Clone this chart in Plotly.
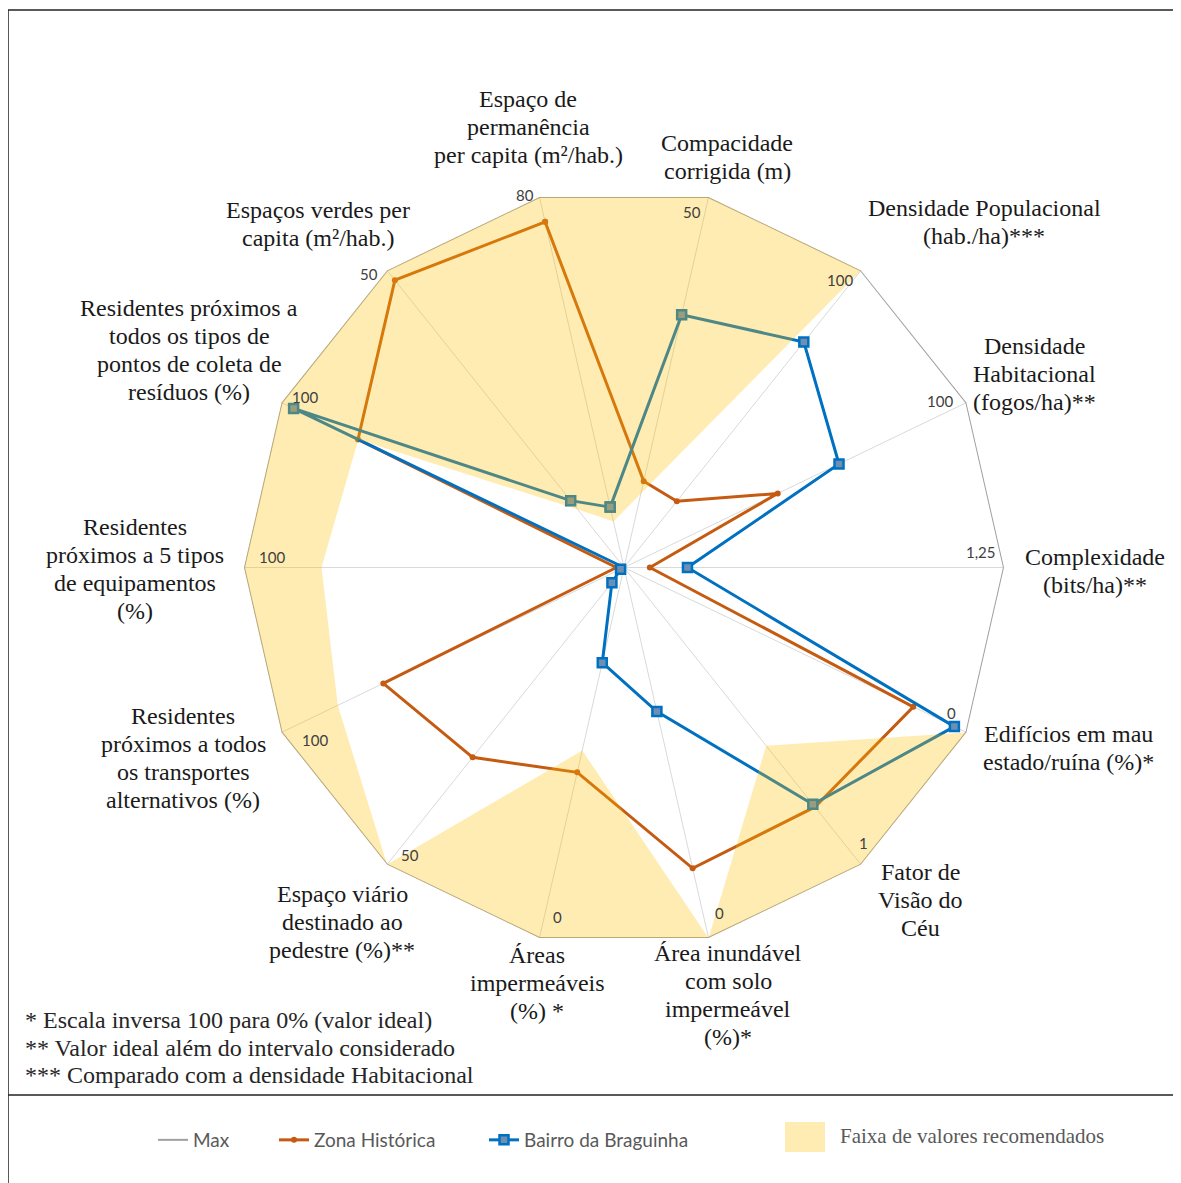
import math
import plotly.graph_objects as go

W, H = 1181, 1183
OFF = 8  # page body margin of the browser

# ---------------- data ----------------
categories = [
    "Espaço de permanência per capita (m²/hab.)",
    "Compacidade corrigida (m)",
    "Densidade Populacional (hab./ha)***",
    "Densidade Habitacional (fogos/ha)**",
    "Complexidade (bits/ha)**",
    "Edifícios em mau estado/ruína (%)*",
    "Fator de Visão do Céu",
    "Área inundável com solo impermeável (%)*",
    "Áreas impermeáveis (%) *",
    "Espaço viário destinado ao pedestre (%)**",
    "Residentes próximos a todos os transportes alternativos (%)",
    "Residentes próximos a 5 tipos de equipamentos (%)",
    "Residentes próximos a todos os tipos de pontos de coleta de resíduos (%)",
    "Espaços verdes per capita (m²/hab.)",
]

category_label_lines = [
    ["Espaço de", "permanência", "per capita (m²/hab.)"],
    ["Compacidade", "corrigida (m)"],
    ["Densidade Populacional", "(hab./ha)***"],
    ["Densidade", "Habitacional", "(fogos/ha)**"],
    ["Complexidade", "(bits/ha)**"],
    ["Edifícios em mau", "estado/ruína (%)*"],
    ["Fator de", "Visão do", "Céu"],
    ["Área inundável", "com solo", "impermeável", "(%)*"],
    ["Áreas", "impermeáveis", "(%) *"],
    ["Espaço viário", "destinado ao", "pedestre (%)**"],
    ["Residentes", "próximos a todos", "os transportes", "alternativos (%)"],
    ["Residentes", "próximos a 5 tipos", "de equipamentos", "(%)"],
    ["Residentes próximos a", "todos os tipos de", "pontos de coleta de", "resíduos (%)"],
    ["Espaços verdes per", "capita (m²/hab.)"],
]

axis_max_labels = ["80", "50", "100", "100", "1,25", "0", "1", "0", "0", "50", "100", "100", "100", "50"]

max_values = [1, 1, 1, 1, 1, 1, 1, 1, 1, 1, 1, 1, 1, 1]
zona_historica = [0.933, 0.233, 0.223, 0.449, 0.068, 0.845, 0.806, 0.812, 0.553, 0.639, 0.703, 0.02, 0.777, 0.967]
bairro_braguinha = [0.163, 0.682, 0.759, 0.628, 0.167, 0.965, 0.797, 0.389, 0.257, 0.051, 0.01, 0.0, 0.965, 0.225]

# recommended range (upper / lower bound); None = no recommended band
faixa_upper = [1, 1, 1, None, None, 1, 1, 1, 1, 1, 1, 1, 1, 1]
faixa_lower = [0.124, 0.2, 1, None, None, 1, 0.6, 1, 0.494, 1, 0.836, 0.796, 0.776, 0.195]

footnotes = [
    "* Escala inversa 100 para 0% (valor ideal)",
    "** Valor ideal além do intervalo considerado",
    "*** Comparado com a densidade Habitacional",
]

# ---------------- geometry / styles ----------------
CX, CY, R = 624.0, 567.5, 380.0
ROT = 90 + 180 / 14.0
N = len(categories)


def px(x):
    return (x - OFF) / W


def py(y):
    return 1 - (y - OFF) / H


def vertex(i, r=1.0):
    a = math.radians(ROT - i * 360.0 / N)
    return CX + R * r * math.cos(a), CY - R * r * math.sin(a)


SERIF = "Liberation Serif"
ORANGE = "#C55A11"
BLUE = "#0070C0"
GOLD = "rgba(255,192,0,0.30)"

fig = go.Figure()

# spokes
sp_theta, sp_r = [], []
for c in categories:
    sp_theta += [c, c, c]
    sp_r += [0, 1, None]
fig.add_trace(go.Scatterpolar(theta=sp_theta, r=sp_r, mode="lines",
                              line=dict(color="#D9D9D9", width=1),
                              showlegend=False, hoverinfo="skip", cliponaxis=False))

# Max polygon
fig.add_trace(go.Scatterpolar(theta=categories + categories[:1], r=max_values + max_values[:1],
                              mode="lines", name="Max", legend="legend",
                              line=dict(color="#A0A0A0", width=2), cliponaxis=False))

fig.add_trace(go.Scatterpolar(theta=categories + categories[:1], r=zona_historica + zona_historica[:1],
                              mode="lines+markers", name="Zona Histórica", legend="legend2",
                              line=dict(color=ORANGE, width=3),
                              marker=dict(symbol="circle", size=6, color=ORANGE),
                              cliponaxis=False))

fig.add_trace(go.Scatterpolar(theta=categories + categories[:1], r=bairro_braguinha + bairro_braguinha[:1],
                              mode="lines+markers", name="Bairro da Braguinha", legend="legend3",
                              line=dict(color=BLUE, width=3),
                              marker=dict(symbol="square", size=9, color="#6E8FB4",
                                          line=dict(color=BLUE, width=2.5)),
                              cliponaxis=False))

# recommended band (semi-transparent overlay on top)
order = list(range(5, N)) + list(range(0, 3))
band_theta = [categories[i] for i in order] + [categories[i] for i in reversed(order)]
band_r = [faixa_upper[i] for i in order] + [faixa_lower[i] for i in reversed(order)]
fig.add_trace(go.Scatterpolar(theta=band_theta, r=band_r, mode="lines", fill="toself",
                              fillcolor=GOLD, line=dict(width=0, color="rgba(0,0,0,0)"),
                              name="Faixa de valores recomendados", showlegend=False,
                              hoverinfo="skip", cliponaxis=False))

legend_font = dict(family="Lato", size=19, color="#595959")


def legend_at(x_text_start):
    return dict(orientation="h", x=px(x_text_start - 40), y=py(1140), xanchor="left",
                yanchor="middle", font=legend_font, bgcolor="rgba(0,0,0,0)", itemwidth=30)


fig.update_layout(
    width=W, height=H,
    margin=dict(l=0, r=0, t=0, b=0),
    paper_bgcolor="white",
    plot_bgcolor="white",
    polar=dict(
        domain=dict(x=[px(CX - R), px(CX + R)], y=[py(CY + R), py(CY - R)]),
        gridshape="linear",
        bgcolor="rgba(0,0,0,0)",
        radialaxis=dict(visible=False, range=[0, 1]),
        angularaxis=dict(type="category", categoryarray=categories, direction="clockwise",
                         rotation=ROT, showgrid=False, showline=False,
                         showticklabels=False, ticks=""),
    ),
    showlegend=True,
    legend=legend_at(193),
    legend2=legend_at(314),
    legend3=legend_at(524),
)

annotations = []
# category labels (centre positions in px)
label_centres = [(528, 127), (727, 157), (984, 222), (1034, 374), (1095, 571), (1068, 748),
                 (920, 900), (728, 995), (537, 983), (342, 922), (183, 758), (135, 569),
                 (189, 350), (318, 224)]
LINE_H = 28.3
for lines, (cx, cy) in zip(category_label_lines, label_centres):
    n = len(lines)
    for k, t in enumerate(lines):
        yy = cy + (k - (n - 1) / 2) * LINE_H
        annotations.append(dict(x=px(cx), y=py(yy), xref="paper", yref="paper", text=t,
                                showarrow=False, xanchor="center", yanchor="middle",
                                font=dict(family=SERIF, size=24, color="#1a1a1a")))

# per-axis maximum labels, offset from each vertex
tick_offsets = [(-14, -2), (-17, 15), (-21, 10), (-26, -2), (-23, -16), (-15, -19), (3, -22),
                (11, -25), (18, -21), (23, -10), (33, 8), (28, -11), (23, -6), (-18, 4)]
for i, (t, (dx, dy)) in enumerate(zip(axis_max_labels, tick_offsets)):
    vx, vy = vertex(i)
    annotations.append(dict(x=px(vx + dx), y=py(vy + dy), xref="paper", yref="paper", text=t,
                            showarrow=False, xanchor="center", yanchor="middle",
                            font=dict(family="Lato", size=15, color="#404040")))

# footnotes
for k, t in enumerate(footnotes):
    annotations.append(dict(x=px(23), y=py(1020 + k * 27.5), xref="paper", yref="paper", text=t,
                            showarrow=False, xanchor="left", yanchor="middle",
                            font=dict(family=SERIF, size=24, color="#262626")))

# legend entry for the recommended range
annotations.append(dict(x=px(838), y=py(1136), xref="paper", yref="paper",
                        text="Faixa de valores recomendados", showarrow=False,
                        xanchor="left", yanchor="middle",
                        font=dict(family=SERIF, size=21, color="#595959")))

fig.update_layout(annotations=annotations)

shapes = [
    dict(type="rect", xref="paper", yref="paper", x0=px(785), x1=px(825), y0=py(1152), y1=py(1122),
         fillcolor=GOLD, line=dict(width=0)),
    dict(type="line", xref="paper", yref="paper", x0=px(8), x1=1, y0=py(10), y1=py(10),
         line=dict(color="#222", width=1.5)),
    dict(type="line", xref="paper", yref="paper", x0=px(8), x1=px(8), y0=py(10), y1=0,
         line=dict(color="#222", width=1.5)),
    dict(type="line", xref="paper", yref="paper", x0=px(8), x1=1, y0=py(1095), y1=py(1095),
         line=dict(color="#222", width=1.5)),
]
fig.update_layout(shapes=shapes)

fig.write_html("out.html")
